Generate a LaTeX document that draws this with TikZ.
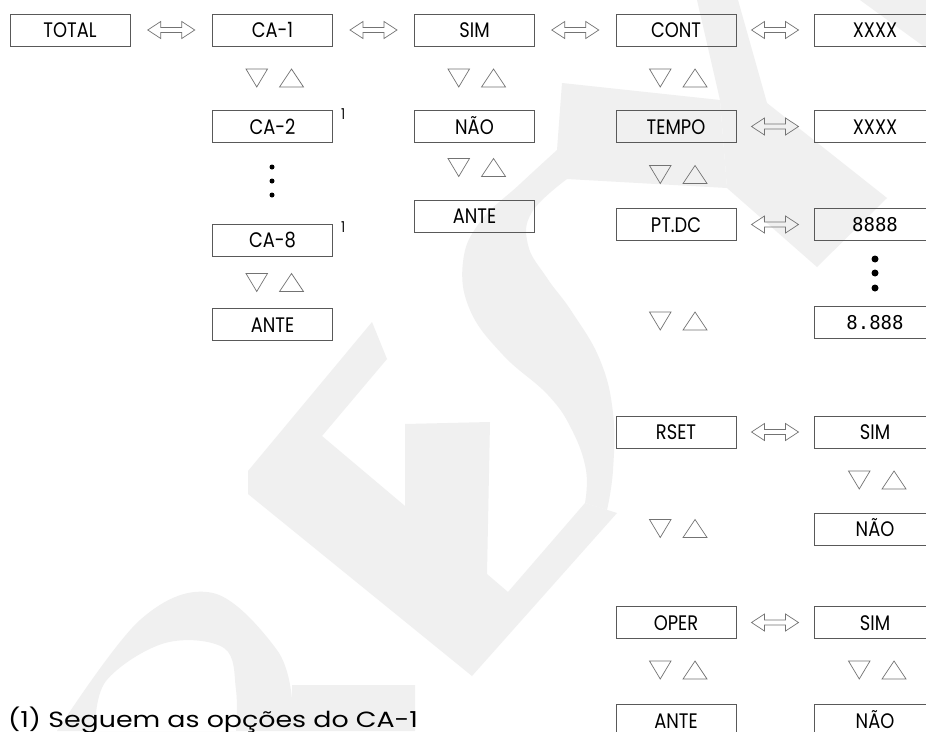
\documentclass[tikz,border=0pt]{standalone}
\usepackage{fontspec}
\setmainfont{Poppins}
\newfontfamily\boxfont[FakeStretch=0.85]{Poppins}
\newfontfamily\notefont[FakeStretch=1.22]{Poppins}
\newfontfamily\numfont{DejaVu Sans Mono}
\usetikzlibrary{calc}

\newcommand\updown[2]{%
  \draw[tri] ({#1-26.5},{#2-9}) -- ({#1-5},{#2-9}) -- ({#1-15.75},{#2+9}) -- cycle;
  \draw[tri] ({#1+7},{#2+9}) -- ({#1+31},{#2+9}) -- ({#1+19},{#2-9}) -- cycle;}
\newcommand\dblarrow[2]{%
  \draw[dbl] ($(#1.east)!0.5!(#2.west)$) ++(-23.5,0) -- ++(13,-8.5) -- ++(0,6) -- ++(21,0) -- ++(0,-6)
     -- ++(13,8.5) -- ++(-13,8.5) -- ++(0,-6) -- ++(-21,0) -- ++(0,6) -- cycle;}

\begin{document}
\begin{tikzpicture}[x=1pt,y=-1pt,
  box/.style={draw=black!65, line width=0.9pt, minimum width=120pt, minimum height=32pt,
    inner sep=0pt, text height=15pt, text depth=0pt, font=\boxfont\fontsize{21}{21}\selectfont},
  rbox/.style={box, minimum width=122pt},
  numbox/.style={rbox, text height=14pt, font=\numfont\fontsize{19}{19}\selectfont},
  tri/.style={draw=black!55, line width=0.7pt, line join=miter},
  dbl/.style={draw=black!55, line width=0.7pt},
  supnum/.style={font=\boxfont\fontsize{15}{15}\selectfont, anchor=north west, inner sep=0pt},
  wm/.style={fill=black!6, draw=none}]

\fill[white] (0,0) rectangle (926,731);
\useasboundingbox (0,0) rectangle (926,731);

% watermark
\fill[wm,even odd rule] plot[smooth, tension=0.6] coordinates {(57,731) (140,620) (213,593) (277,650) (292,700)}
   -- (292,685) -- (415,685) -- (415,731) -- cycle
   plot[smooth, tension=0.6] coordinates {(95,731) (106,681) (165,643) (224,648) (236,690) (236,731)} -- cycle;
\fill[wm] (248,471) -- (372,322) -- (387,359) -- (322,436) -- (405,506) -- (405,424) -- (490,422)
   -- (487,574) -- (508,592) -- (585,503) -- (617,513) -- (472,676) -- (248,494) -- cycle;
\fill[wm] (562,83) -- (720,100) -- (727,188) -- (567,179)
   -- plot[smooth, tension=0.7] coordinates {(567,179) (532,212) (528,245) (547,278) (572,312) (600,360) (613,413) (613,470) (607,510)}
   -- (585,503)
   -- plot[smooth, tension=0.7] coordinates {(585,503) (586,470) (572,430) (548,395) (503,355) (470,310) (463,262) (480,222) (520,184) (557,150)}
   -- cycle;
\fill[wm] (697,0) -- (738,0) -- (767,103) -- (887,198) -- (817,267) -- (727,188) -- (720,100) -- cycle;
\fill[wm] (860,0) -- (926,0) -- (926,48) -- cycle;

% row 1
\node[box] (total) at (70,30) {TOTAL};
\node[box] (ca1) at (272.5,30) {CA-1};
\node[box] (sim1) at (474.5,30) {SIM};
\node[box] (cont) at (676,30) {CONT};
\node[rbox] (xa) at (875,30) {XXXX};

% CA column
\node[box] (ca2) at (272.5,126.5) {CA-2};
\node[box] (ca8) at (272.5,240) {CA-8};
\node[box] (anteca) at (272.5,324.5) {ANTE};
\node[supnum] (sup2) at ($(ca2.north east)+(8,-2)$) {1};
\node[supnum] (sup8) at ($(ca8.north east)+(8,-2)$) {1};
\fill (272,167) circle (2.5) (272,181) circle (2.5) (272,195) circle (2.5);

% SIM column
\node[box] (nao1) at (474.5,126.5) {NÃO};
\node[box] (antesim) at (474.5,216) {ANTE};

% CONT column
\node[box] (tempo) at (676,126.5) {TEMPO};
\node[box] (ptdc) at (676,224.5) {PT.DC};
\node[box] (rset) at (676,432) {RSET};
\node[box] (oper) at (676,622.5) {OPER};
\node[box] (anteop) at (676,720.5) {ANTE};

% right column
\node[rbox] (xb) at (875,126.5) {XXXX};
\node[numbox] (n1) at (875,224.5) {8888};
\node[numbox] (n2) at (875,322) {8.888};
\fill (875,259) circle (3.5) (875,273) circle (3.5) (875,288) circle (3.5);
\node[rbox] (sim2) at (875,432) {SIM};
\node[rbox] (nao2) at (875,529) {NÃO};
\node[rbox] (sim3) at (875,622.5) {SIM};
\node[rbox] (nao3) at (875,720.5) {NÃO};

% double arrows
\dblarrow{total}{ca1}
\dblarrow{ca1}{sim1}
\dblarrow{sim1}{cont}
\dblarrow{cont}{xa}
\dblarrow{tempo}{xb}
\dblarrow{ptdc}{n1}
\dblarrow{rset}{sim2}
\dblarrow{oper}{sim3}

% up/down triangles
\updown{272.5}{78}
\updown{474.5}{78}
\updown{676}{78}
\updown{474.5}{167.5}
\updown{676}{174.5}
\updown{272.5}{282.5}
\updown{676}{321}
\updown{875}{480}
\updown{676}{528.5}
\updown{676}{670}
\updown{875}{670}

% footnote
\node[anchor=base west, inner sep=0pt, font=\notefont\fontsize{22}{22}\selectfont] (note) at (8,727) {(1) Seguem as opções do CA-1};
\end{tikzpicture}
\end{document}
